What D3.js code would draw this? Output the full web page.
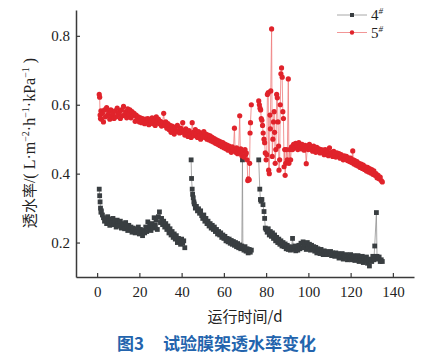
<!DOCTYPE html>
<html><head><meta charset="utf-8">
<script src="https://cdn.jsdelivr.net/npm/d3@7"></script>
<style>
html,body{margin:0;padding:0;background:#fff;}
svg{display:block;}
</style></head>
<body>
<svg id="chart" width="445" height="357"></svg>
<script>
// ---- data ----
const xTicks = [0, 20, 40, 60, 80, 100, 120, 140];
const yTicks = [0.2, 0.4, 0.6, 0.8];
const seriesNames = ["4", "5"];

// 4# membrane rack: days and permeability (null = break in record)
const day4 = [1.0,1.2,1.4,1.6,1.8,2.0,2.5,3.0,3.5,4.0,4.5,5.0,5.5,6.0,6.5,7.0,7.5,8.0,8.5,9.0,9.5,10.0,10.5,11.0,11.5,12.0,12.5,13.0,13.5,14.0,14.5,15.0,15.5,16.0,16.5,17.0,17.5,18.0,18.5,19.0,19.5,20.0,20.5,21.0,21.5,22.0,22.5,23.0,23.5,24.0,24.5,25.0,25.5,26.0,26.5,27.0,27.5,28.0,28.5,29.0,29.5,30.0,30.5,31.0,31.5,32.0,32.5,33.0,33.5,34.0,34.5,35.0,35.5,36.0,36.5,37.0,37.5,38.0,38.5,39.0,39.5,40.0,40.5,41.0,41.5,
43.0,
44.5,44.7,45.0,45.2,45.5,45.8,46.0,46.5,47.0,47.5,48.0,48.5,49.0,49.5,50.0,50.5,51.0,51.5,52.0,52.5,53.0,53.5,54.0,54.5,55.0,55.5,56.0,56.5,57.0,57.5,58.0,58.5,59.0,59.5,60.0,60.5,61.0,61.5,62.0,62.5,63.0,63.5,64.0,64.5,65.0,65.5,66.0,66.5,67.0,67.5,68.0,68.5,68.8,69.0,69.5,70.0,70.5,71.0,71.5,72.0,72.5,73.0,
75.0,
76.5,77.0,77.3,77.6,78.0,78.5,79.0,79.3,79.6,80.0,80.5,81.0,81.5,82.0,82.5,83.0,83.5,84.0,84.5,85.0,85.5,86.0,86.5,87.0,87.5,88.0,88.5,89.0,89.5,90.0,90.5,91.0,91.5,92.0,92.5,93.0,93.5,94.0,94.5,95.0,95.5,96.0,96.5,97.0,97.5,98.0,98.5,99.0,99.5,100.0,100.5,101.0,101.5,102.0,102.5,103.0,103.5,104.0,104.5,105.0,105.5,106.0,106.5,107.0,107.5,108.0,108.5,109.0,109.5,110.0,110.5,111.0,111.5,112.0,112.5,113.0,113.5,114.0,114.5,115.0,115.5,116.0,116.5,117.0,117.5,118.0,118.5,119.0,119.5,120.0,120.5,121.0,121.5,122.0,122.5,123.0,123.5,124.0,124.5,125.0,125.5,126.0,126.5,127.0,127.5,128.0,128.5,128.9,129.5,130.0,130.5,131.0,131.4,132.2,132.5,133.0,133.5,134.0,134.5,135.0];
const val4 = [.355,.336,.318,.300,.288,.292,.280,.272,.262,.268,.255,.275,.262,.250,.268,.258,.270,.252,.262,.245,.265,.255,.248,.262,.242,.255,.250,.240,.258,.245,.235,.250,.238,.245,.230,.242,.235,.228,.240,.232,.245,.225,.238,.230,.220,.235,.228,.245,.232,.260,.240,.250,.235,.255,.242,.272,.250,.265,.238,.275,.289,.258,.270,.252,.262,.245,.255,.238,.248,.228,.240,.222,.232,.215,.225,.210,.220,.200,.212,.205,.195,.210,.198,.205,.185,
null,
.440,.386,.355,.340,.330,.318,.312,.300,.305,.292,.298,.285,.292,.278,.270,.280,.262,.270,.255,.262,.248,.255,.242,.250,.238,.245,.232,.238,.225,.232,.222,.228,.215,.222,.212,.218,.205,.212,.202,.210,.198,.206,.195,.203,.192,.200,.188,.197,.185,.193,.182,.190,.440,.185,.178,.188,.175,.182,.170,.180,.172,.178,
null,
.440,.355,.325,.320,.325,.310,.290,.270,.242,.238,.230,.240,.222,.232,.218,.228,.212,.222,.205,.215,.200,.210,.195,.205,.190,.200,.188,.196,.182,.192,.180,.188,.178,.186,.212,.180,.190,.176,.185,.178,.192,.182,.198,.185,.202,.188,.196,.180,.200,.186,.195,.178,.192,.182,.188,.175,.186,.170,.182,.175,.168,.180,.172,.165,.176,.168,.174,.165,.172,.168,.174,.162,.170,.165,.160,.170,.162,.168,.155,.165,.160,.168,.152,.162,.158,.165,.150,.160,.155,.165,.150,.158,.162,.148,.158,.152,.162,.145,.155,.150,.160,.142,.155,.148,.158,.140,.150,.132,.152,.145,.160,.150,.190,.287,.160,.152,.158,.145,.150,.145];

// 5# membrane rack
const day5 = [1.0,1.2,1.4,1.6,1.8,2.0,2.5,3.0,3.5,4.0,4.5,5.0,5.5,6.0,6.5,7.0,7.5,8.0,8.5,9.0,9.5,10.0,10.5,11.0,11.5,12.0,12.5,13.0,13.5,14.0,14.5,15.0,15.5,16.0,16.5,17.0,17.5,18.0,18.5,19.0,19.5,20.0,20.5,21.0,21.5,22.0,22.5,23.0,23.5,24.0,24.5,25.0,25.5,26.0,26.5,27.0,27.5,28.0,28.5,29.0,29.5,30.0,30.5,31.0,31.5,32.0,32.5,33.0,33.5,34.0,34.5,35.0,35.5,36.0,36.5,37.0,37.5,38.0,38.5,39.0,39.5,40.0,40.5,41.0,41.5,42.0,42.5,43.0,43.5,44.0,44.5,45.0,45.5,46.0,46.5,47.0,47.5,48.0,48.5,49.0,49.5,50.0,50.5,51.0,51.5,52.0,52.5,53.0,53.5,54.0,54.5,55.0,55.5,56.0,56.5,57.0,57.5,58.0,58.5,59.0,59.5,60.0,60.5,61.0,61.5,62.0,62.5,63.0,63.5,64.0,64.5,65.0,65.3,65.6,66.0,66.5,67.0,67.5,67.8,68.0,68.5,69.0,69.5,70.0,70.3,70.6,71.0,71.3,71.6,72.0,72.2,72.4,72.6,73.0,
75.0,
76.5,76.8,77.1,77.4,77.7,78.0,78.3,78.6,79.0,79.3,79.6,80.0,80.3,80.6,81.0,81.2,81.5,81.8,82.0,82.2,82.6,82.9,83.2,83.5,83.8,84.0,84.3,84.6,85.0,85.3,85.6,85.9,86.1,86.4,86.7,87.0,87.3,87.6,87.9,88.2,88.5,88.8,89.0,89.3,89.6,90.0,90.5,90.8,91.2,91.6,92.0,92.5,93.0,93.5,94.0,94.5,95.0,95.5,96.0,96.5,97.0,97.5,98.0,98.5,99.0,99.5,100.0,100.5,101.0,101.5,102.0,102.5,103.0,103.5,104.0,104.5,105.0,105.5,106.0,106.5,107.0,107.5,108.0,108.5,109.0,109.5,110.0,110.5,111.0,111.5,112.0,112.5,113.0,113.5,114.0,114.5,115.0,115.5,116.0,116.5,117.0,117.5,118.0,118.5,119.0,119.5,120.0,120.5,121.0,121.3,121.6,122.0,122.5,123.0,123.5,124.0,124.5,125.0,125.5,126.0,126.5,127.0,127.5,128.0,128.5,129.0,129.5,130.0,130.5,131.0,131.5,132.0,132.5,133.0,133.5,134.0,134.5,135.0];
const val5 = [.630,.622,.570,.560,.582,.558,.575,.550,.585,.565,.592,.570,.580,.558,.585,.568,.575,.560,.582,.565,.590,.572,.578,.560,.585,.568,.595,.570,.580,.562,.588,.572,.585,.562,.580,.568,.575,.552,.570,.560,.565,.550,.562,.548,.560,.552,.545,.558,.548,.560,.542,.555,.548,.562,.545,.555,.540,.565,.550,.558,.545,.552,.538,.548,.575,.540,.550,.532,.545,.528,.540,.520,.538,.528,.515,.535,.522,.540,.525,.518,.532,.520,.548,.525,.512,.530,.518,.508,.525,.515,.505,.548,.520,.510,.528,.515,.505,.522,.510,.500,.518,.508,.522,.505,.515,.500,.512,.498,.510,.495,.505,.492,.502,.488,.498,.485,.495,.482,.492,.478,.490,.475,.486,.472,.483,.468,.480,.470,.462,.478,.468,.532,.470,.462,.475,.458,.470,.568,.460,.472,.452,.465,.448,.470,.455,.460,.440,.380,.385,.382,.430,.518,.548,.600,
null,
.611,.600,.590,.585,.560,.555,.540,.518,.500,.490,.460,.440,.455,.630,.635,.410,.400,.570,.530,.640,.820,.450,.500,.550,.580,.520,.430,.470,.630,.620,.550,.480,.410,.440,.600,.690,.707,.680,.580,.560,.420,.470,.395,.430,.470,.440,.675,.430,.470,.440,.478,.470,.485,.475,.488,.478,.470,.490,.480,.472,.485,.475,.468,.482,.429,.478,.470,.485,.472,.478,.465,.480,.470,.462,.476,.466,.472,.460,.470,.462,.468,.455,.470,.460,.465,.452,.475,.458,.462,.450,.465,.455,.448,.460,.450,.458,.445,.455,.448,.440,.452,.442,.450,.438,.446,.435,.445,.432,.466,.440,.428,.438,.425,.435,.422,.430,.418,.428,.415,.425,.412,.420,.408,.418,.405,.415,.402,.412,.398,.408,.395,.400,.388,.395,.385,.390,.380,.376];

// ---- chart ----
const svg = d3.select("#chart");
const axisColor = "#3a3a3a";
const serif = "'Liberation Serif','Times New Roman','Noto Sans CJK SC',serif";
const cjk = "'Noto Sans CJK SC','Liberation Serif',sans-serif";

const x = d3.scaleLinear().domain([-10, 150]).range([76, 414]);
const y = d3.scaleLinear().domain([0.1, 0.875]).range([277, 10]);

const series = [
  {name: seriesNames[0], days: day4, vals: val4, line: "#929292", fill: "#393e41", shape: "square"},
  {name: seriesNames[1], days: day5, vals: val5, line: "#ef7b7b", fill: "#e0232b", shape: "circle"}
];

const lineGen = d3.line()
  .defined(d => d.v !== null)
  .x(d => x(d.d)).y(d => y(d.v));

series.forEach(s => {
  const pts = s.days.map((d, i) => ({d: d, v: s.vals[i]}));
  const g = svg.append("g");
  g.append("path").datum(pts)
    .attr("d", lineGen).attr("fill", "none")
    .attr("stroke", s.line).attr("stroke-width", 0.8);
  const valid = pts.filter(p => p.v !== null);
  if (s.shape === "square") {
    g.selectAll("rect").data(valid).join("rect")
      .attr("x", p => x(p.d) - 2.4).attr("y", p => y(p.v) - 2.4)
      .attr("width", 4.8).attr("height", 4.8).attr("fill", s.fill);
  } else {
    g.selectAll("circle").data(valid).join("circle")
      .attr("cx", p => x(p.d)).attr("cy", p => y(p.v))
      .attr("r", 2.6).attr("fill", s.fill);
  }
});

// axes
const xAxis = d3.axisBottom(x).tickValues(xTicks).tickFormat(d3.format("d"))
  .tickSizeInner(-4).tickSizeOuter(0).tickPadding(9);
const yAxis = d3.axisLeft(y).tickValues(yTicks).tickFormat(d3.format(".1f"))
  .tickSizeInner(-4).tickSizeOuter(0).tickPadding(6);

const gx = svg.append("g").attr("transform", "translate(0,277)").call(xAxis);
const gy = svg.append("g").attr("transform", "translate(76,0)").call(yAxis);
[gx, gy].forEach(g => {
  g.select(".domain").attr("stroke", axisColor).attr("stroke-width", 1.5);
  g.selectAll(".tick line").attr("stroke", axisColor).attr("stroke-width", 1.2);
  g.selectAll(".tick text").attr("fill", "#222").style("font-family", serif).style("font-size", "15px");
});

// axis titles
svg.append("text").attr("x", 245).attr("y", 322).attr("text-anchor", "middle")
  .style("font-family", cjk).style("font-size", "15px").attr("fill", "#222")
  .text("运行时间/d");

const yt = svg.append("text").attr("transform", "translate(35,143) rotate(-90)")
  .attr("text-anchor", "middle").style("font-family", serif).style("font-size", "16px").attr("fill", "#222");
yt.append("tspan").style("font-family", cjk).style("font-size", "15px").text("透水率");
yt.append("tspan").text("/( L·m");
yt.append("tspan").attr("dy", -6).style("font-size", "10px").text("−2");
yt.append("tspan").attr("dy", 6).text("·h");
yt.append("tspan").attr("dy", -6).style("font-size", "10px").text("−1");
yt.append("tspan").attr("dy", 6).text("·kPa");
yt.append("tspan").attr("dy", -6).style("font-size", "10px").text("−1");
yt.append("tspan").attr("dy", 6).text(" )");

// legend
series.forEach((s, i) => {
  const ly = 15 + i * 17.5;
  const g = svg.append("g");
  g.append("line").attr("x1", 337).attr("x2", 367).attr("y1", ly).attr("y2", ly)
    .attr("stroke", s.line).attr("stroke-width", 0.8);
  if (s.shape === "square") {
    g.append("rect").attr("x", 350).attr("y", ly - 2).attr("width", 4).attr("height", 4).attr("fill", s.fill);
  } else {
    g.append("circle").attr("cx", 352).attr("cy", ly).attr("r", 2.2).attr("fill", s.fill);
  }
  const t = g.append("text").attr("x", 371).attr("y", ly + 5)
    .style("font-family", serif).style("font-size", "15px").attr("fill", "#222");
  t.append("tspan").text(s.name);
  t.append("tspan").attr("dy", -6).style("font-size", "9px").style("font-style", "italic").text("#");
});

// caption
const cap = svg.append("text").attr("x", 117).attr("y", 350)
  .style("font-family", cjk).style("font-size", "17px").style("font-weight", "bold").attr("fill", "#2364ad");
cap.append("tspan").text("图3");
cap.append("tspan").attr("x", 163).text("试验膜架透水率变化");
</script>
</body></html>
